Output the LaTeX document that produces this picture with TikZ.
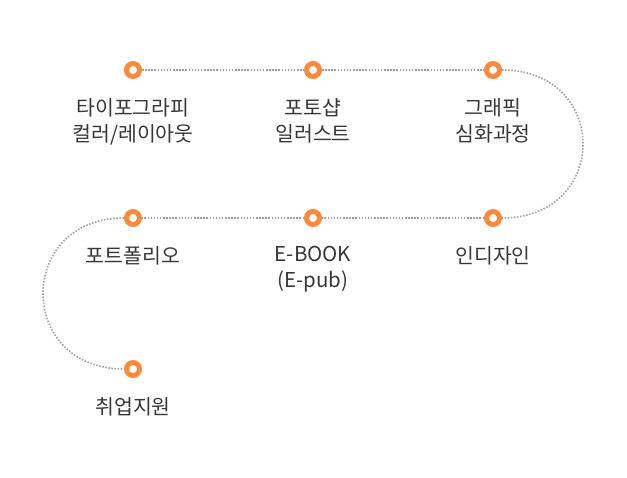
\documentclass[tikz,border=0pt]{standalone}
\usepackage{fontspec}
\setmainfont{Noto Sans CJK KR}
\usetikzlibrary{positioning}
\definecolor{StepOrange}{RGB}{255, 137, 61}
\definecolor{RouteGray}{RGB}{160, 160, 160}
\definecolor{LabelInk}{RGB}{55, 55, 55}

\begin{document}
\begin{tikzpicture}[x=1pt, y=-1pt, node distance=19pt]
    \tikzset{
      stepdot/.style={circle, draw=StepOrange, fill=white, line width=5pt, minimum size=13pt, inner sep=0pt},
      steplabel/.style={text=LabelInk, font=\fontsize{20.5}{26}\selectfont, align=center, inner sep=0pt},
      route/.style={RouteGray, line width=1.6pt, dash pattern=on 1.5pt off 1.6pt}
    }
    \useasboundingbox (0,0) rectangle (627,478);

    % Steps
    \node [stepdot] (d1) at (133,70) {};
    \node [stepdot] (d2) at (313,70) {};
    \node [stepdot] (d3) at (493,70) {};
    \node [stepdot] (d4) at (133,218) {};
    \node [stepdot] (d5) at (313,218) {};
    \node [stepdot] (d6) at (493,218) {};
    \node [stepdot] (d7) at (133,369) {};

    % Labels
    \node [steplabel, below=of d1] (l1) {타이포그라피\\컬러/레이아웃};
    \node [steplabel, below=of d2] (l2) {포토샵\\일러스트};
    \node [steplabel, below=of d3] (l3) {그래픽\\심화과정};
    \node [steplabel, below=of d4] (l4) {포트폴리오};
    \node [steplabel, below=of d5] (l5) {E-BOOK\\(E-pub)};
    \node [steplabel, below=of d6] (l6) {인디자인};
    \node [steplabel, below=of d7] (l7) {취업지원};

    % Route
    \draw [route] (d1) -- (d2);
    \draw [route] (d2) -- (d3);
    \draw [route] (d3.east) .. controls +(108,0) and +(108,0) .. (d6.east);
    \draw [route] (d6) -- (d5);
    \draw [route] (d5) -- (d4);
    \draw [route] (d4.west) .. controls +(-108,0) and +(-108,0) .. (d7.west);
  \end{tikzpicture}
\end{document}
